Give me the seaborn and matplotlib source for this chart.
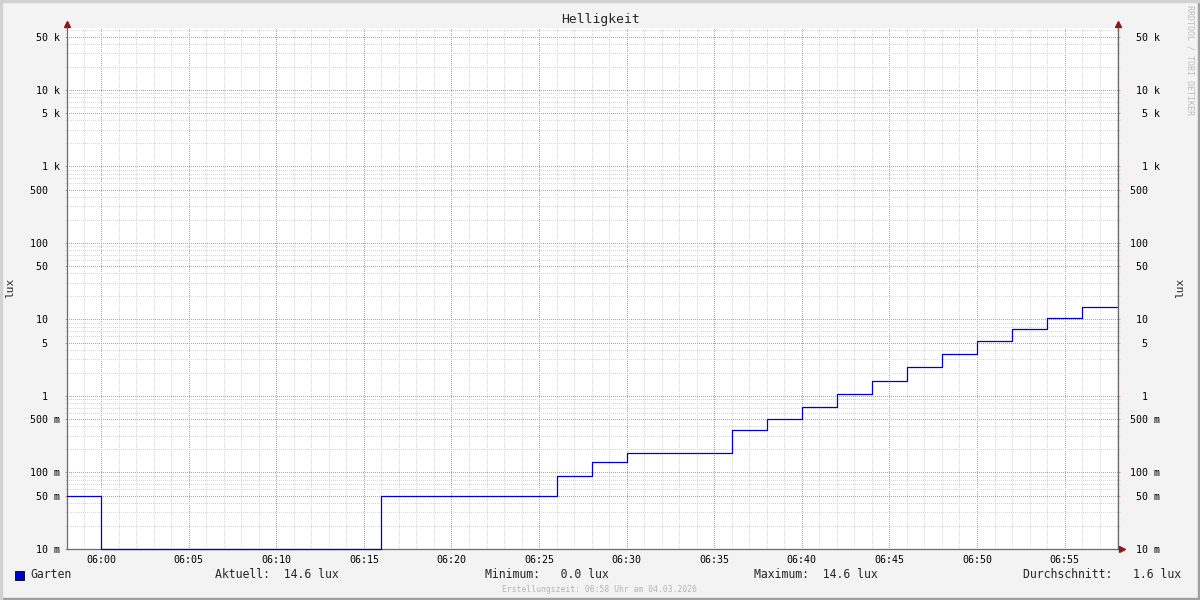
import numpy as np
import pandas as pd
import matplotlib
matplotlib.use("Agg")
import matplotlib.pyplot as plt
import matplotlib.dates as mdates
import matplotlib.ticker as mticker
from matplotlib.patches import Rectangle
from matplotlib.transforms import offset_copy
import seaborn as sns

# data
day = "2026-03-04"
step_times = ["05:58:03", "06:00:00", "06:16:00", "06:26:00", "06:28:00", "06:30:00",
              "06:36:00", "06:38:00", "06:40:00", "06:42:00", "06:44:00", "06:46:00",
              "06:48:00", "06:50:00", "06:52:00", "06:54:00", "06:56:00", "06:58:00"]
lux = [0.05, 0.0, 0.05, 0.09, 0.138, 0.18,
       0.357, 0.5, 0.71, 1.06, 1.57, 2.39,
       3.54, 5.24, 7.5, 10.5, 14.6, 14.6]
series_name = "Garten"

ytick_vals = [0.01, 0.05, 0.1, 0.5, 1, 5, 10, 50, 100, 500, 1e3, 5e3, 1e4, 5e4]
ytick_labels = ["10 m", "50 m", "100 m", "500 m", "1  ", "5  ", "10  ", "50  ",
                "100  ", "500  ", "1 k", "5 k", "10 k", "50 k"]

x_start = pd.Timestamp(f"{day} 05:58:03")
x_end = pd.Timestamp(f"{day} 06:58:03")
y_min, y_max = 0.01, 65600

df = pd.DataFrame({"time": pd.to_datetime([f"{day} {t}" for t in step_times]),
                   "lux": lux})
df["plot"] = df["lux"].clip(lower=y_min)

# stats for the legend line (time weighted)
dur = df["time"].diff().shift(-1).dt.total_seconds().fillna(0)
cur = df["lux"].iloc[-1]
vmin = df["lux"].min()
vmax = df["lux"].max()
avg = (df["lux"] * dur).sum() / dur.sum()

sns.set_style("white")
plt.rcParams["font.family"] = ["DejaVu Sans Mono"]

W, H = 1200, 600
fig = plt.figure(figsize=(12, 6), dpi=100, facecolor="#F3F3F3")


def fx(x):
    return x / W


def fy(y):
    return 1 - y / H


ax = fig.add_axes([fx(67), fy(549), 1051 / W, 521.5 / H])
ax.set_facecolor("white")

sns.lineplot(data=df, x="time", y="plot", ax=ax, color="#0000CC", linewidth=0.9,
             drawstyle="steps-post", clip_on=False, zorder=5)

ax.set_yscale("log")
ax.set_ylim(y_min, y_max)
ax.set_xlim(x_start, x_end)

ax.yaxis.set_major_locator(mticker.FixedLocator(ytick_vals))
ax.yaxis.set_major_formatter(mticker.FixedFormatter(ytick_labels))
ax.yaxis.set_minor_locator(mticker.LogLocator(base=10, subs=(2, 3, 4, 6, 7, 8, 9), numticks=30))
ax.yaxis.set_minor_formatter(mticker.NullFormatter())

ax.xaxis.set_major_locator(mdates.MinuteLocator(byminute=range(0, 60, 5)))
ax.xaxis.set_minor_locator(mdates.MinuteLocator(byminute=[m for m in range(60) if m % 5]))
ax.xaxis.set_major_formatter(mdates.DateFormatter("%H:%M"))

# 1px on / 1px off dots, shifted half a pixel so they land on whole pixels
grid_minor = "#D6D6D6"
grid_major = "#EC8A8A"
dots = (0.5, (1, 1))
ax.grid(which="minor", color=grid_minor, linestyle=dots, linewidth=0.72)
ax.grid(which="major", color=grid_major, linestyle=dots, linewidth=0.72)
ax.set_axisbelow(True)

ax.tick_params(which="major", length=1.5, width=0.72, color=grid_major,
               labelsize=7.2, labelcolor="#000000")
ax.tick_params(which="minor", length=1.5, width=0.72, color=grid_minor)
ax.tick_params(axis="y", which="both", left=True, right=True, labelright=True, pad=3.6)
ax.tick_params(axis="x", pad=2.5)

ax.set_xlabel("")
ax.set_ylabel("")

axis_col = "#6A6A6A"
for s in ["left", "bottom", "right"]:
    ax.spines[s].set_color(axis_col)
    ax.spines[s].set_linewidth(0.9)
ax.spines["top"].set_visible(False)

# little arrows at the axis ends
arrow_col = "#8B1A1A"
ax.plot([0], [1], marker="^", markersize=5, color=arrow_col, clip_on=False, zorder=6,
        transform=offset_copy(ax.transAxes, fig, x=0, y=4, units="dots"))
ax.plot([1], [1], marker="^", markersize=5, color=arrow_col, clip_on=False, zorder=6,
        transform=offset_copy(ax.transAxes, fig, x=0, y=4, units="dots"))
ax.plot([1], [0], marker=">", markersize=5, color=arrow_col, clip_on=False, zorder=6,
        transform=offset_copy(ax.transAxes, fig, x=4, y=0, units="dots"))

# titles and axis names
fig.text(fx(600), fy(19), "Helligkeit", ha="center", va="center", fontsize=9.4)
fig.text(fx(10), fy(288), "lux", ha="center", va="center", rotation=90, fontsize=8)
fig.text(fx(1180), fy(288), "lux", ha="center", va="center", rotation=90, fontsize=8)
fig.text(fx(1190), fy(60), "RRDTOOL / TOBI OETIKER", ha="center", va="center",
         rotation=270, fontsize=6, color="#BDBDBD")

# legend row
fig.add_artist(Rectangle((fx(15), fy(580)), 9 / W, 9 / H, transform=fig.transFigure,
                         facecolor="#0000CC", edgecolor="#000000", linewidth=0.6))
leg_y = fy(575)
fig.text(fx(30), leg_y, series_name, ha="left", va="center", fontsize=8.3)
fig.text(fx(215), leg_y, f"Aktuell: {cur:5.1f} lux", ha="left", va="center", fontsize=8.3)
fig.text(fx(485), leg_y, f"Minimum: {vmin:5.1f} lux", ha="left", va="center", fontsize=8.3)
fig.text(fx(754), leg_y, f"Maximum: {vmax:5.1f} lux", ha="left", va="center", fontsize=8.3)
fig.text(fx(1023), leg_y, f"Durchschnitt: {avg:5.1f} lux", ha="left", va="center", fontsize=8.3)
fig.text(fx(600), fy(589), "Erstellungszeit: 06:58 Uhr am 04.03.2026", ha="center",
         va="center", fontsize=5.8, color="#B4B4B4")

# right hand labels are right aligned like the left ones
fig.canvas.draw()
for tick in ax.yaxis.get_major_ticks():
    tick.label2.set_horizontalalignment("right")
    tick.label2.set_transform(offset_copy(ax.get_yaxis_transform(which="tick2"), fig,
                                          x=42, y=0, units="dots"))

# frame around the image
fig.add_artist(Rectangle((0, 0), 1, 2 / H, transform=fig.transFigure, color="#A0A0A0"))
fig.add_artist(Rectangle((1 - 2 / W, 0), 2 / W, 1, transform=fig.transFigure, color="#A0A0A0"))
fig.add_artist(Rectangle((0, 1 - 2 / H), 1, 2 / H, transform=fig.transFigure, color="#D2D2D2"))
fig.add_artist(Rectangle((0, 0), 2 / W, 1, transform=fig.transFigure, color="#D2D2D2"))

fig.savefig("out.png", dpi=100, facecolor=fig.get_facecolor())
